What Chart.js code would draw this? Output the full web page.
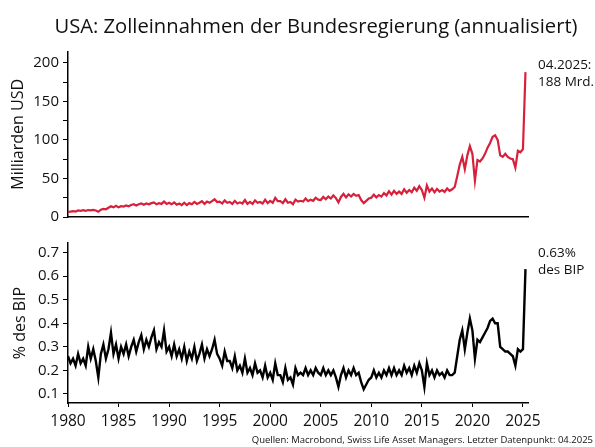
<!DOCTYPE html>
<html><head><meta charset="utf-8">
<script src="https://cdn.jsdelivr.net/npm/chart.js@4"></script>
<style>
html,body{margin:0;padding:0;background:#fff;}
#wrap{position:relative;width:595px;height:447px;overflow:hidden;font-family:"Open Sans",sans-serif;color:#111;}
#title{position:absolute;left:37px;width:558px;top:14px;text-align:center;font-size:20.2px;line-height:22px;white-space:nowrap;}
.note{position:absolute;left:538px;font-size:13.5px;line-height:17px;white-space:nowrap;}
#src{position:absolute;right:2px;top:434px;font-size:9.5px;line-height:11px;white-space:nowrap;}
#c1{position:absolute;left:0;top:0;}
#c2{position:absolute;left:0;top:230px;}
</style></head>
<body>
<div id="wrap">
<canvas id="c1" width="595" height="230"></canvas>
<canvas id="c2" width="595" height="205"></canvas>
<div id="title">USA: Zolleinnahmen der Bundesregierung (annualisiert)</div>
<div class="note" style="top:56px">04.2025:<br>188 Mrd.</div>
<div class="note" style="top:244px">0.63%<br>des BIP</div>
<div id="src">Quellen: Macrobond, Swiss Life Asset Managers. Letzter Datenpunkt: 04.2025</div>
</div>
<script>
// quarterly observations, 1980-01 ... 2025-04
const startYear = 1980;
const stepYears = 0.25;
const xTicks = [1980,1985,1990,1995,2000,2005,2010,2015,2020,2025];
const topTicks = [0,25,50,75,100,125,150,175,200];
const bottomTicks = [0.1,0.2,0.3,0.4,0.5,0.6,0.7];

const customsBn = [
 6.5,7.0,7.5,7.0, 8.5,8.0,8.8,8.0, 9.0,8.5,9.2,8.5, 6.8,9.5,10.5,10.0,
 12.0,14.0,12.5,14.5, 12.5,14.0,13.5,15.0, 14.0,15.5,16.5,15.0, 16.5,17.5,16.0,17.5,
 16.5,18.0,19.0,16.5, 18.0,17.0,20.0,17.0, 18.5,16.5,19.0,16.0, 17.5,15.5,18.5,15.5,
 18.0,16.5,19.5,17.0, 18.5,20.5,17.0,20.0, 18.5,20.5,23.0,19.5, 20.0,17.5,21.5,18.5,
 19.5,17.0,21.0,17.5, 19.0,17.5,22.0,17.0, 19.5,17.0,21.5,18.5, 19.5,17.5,22.5,18.0,
 21.0,18.5,25.0,20.5, 20.5,18.0,23.0,18.5, 19.5,16.5,22.5,20.0, 21.0,20.0,24.0,20.5,
 22.5,21.0,25.0,22.5, 22.0,26.0,23.0,26.5, 24.0,28.0,24.5,19.0, 26.0,30.0,25.5,29.5,
 26.5,30.0,27.5,28.5, 22.0,18.0,21.0,24.0, 25.0,29.0,25.5,28.5, 26.5,31.0,28.0,33.5,
 29.0,34.0,30.0,33.0, 30.0,36.0,31.5,35.0, 32.0,38.0,34.0,40.0, 35.0,25.0,41.0,33.0,
 37.0,32.0,36.5,33.0, 35.0,32.5,37.0,34.0, 36.0,39.0,53.0,68.0, 78.0,62.0,80.0,92.0,
 82.0,47.0,74.0,72.0, 76.0,82.0,90.0,96.0, 104.0,106.0,100.0,80.0, 78.0,82.0,78.0,76.0,
 75.0,64.0,86.0,84.0, 88.0,188.0
];
const customsPctGdp = [
 0.26,0.23,0.25,0.22, 0.27,0.23,0.25,0.22, 0.30,0.25,0.29,0.24, 0.17,0.27,0.31,0.25,
 0.29,0.36,0.27,0.31, 0.25,0.30,0.27,0.31, 0.26,0.30,0.33,0.28, 0.32,0.35,0.29,0.33,
 0.30,0.34,0.37,0.29, 0.32,0.30,0.37,0.28, 0.30,0.26,0.31,0.26, 0.29,0.25,0.30,0.24,
 0.28,0.25,0.30,0.24, 0.27,0.31,0.25,0.29, 0.26,0.29,0.33,0.27, 0.25,0.22,0.28,0.24,
 0.24,0.21,0.26,0.20, 0.22,0.19,0.25,0.19, 0.21,0.18,0.23,0.19, 0.20,0.17,0.22,0.17,
 0.19,0.16,0.23,0.18, 0.18,0.15,0.21,0.16, 0.17,0.14,0.21,0.18, 0.19,0.18,0.21,0.18,
 0.20,0.18,0.21,0.19, 0.18,0.21,0.18,0.20, 0.18,0.20,0.17,0.13, 0.18,0.21,0.17,0.20,
 0.18,0.21,0.18,0.19, 0.15,0.12,0.14,0.16, 0.17,0.20,0.17,0.19, 0.17,0.20,0.18,0.21,
 0.18,0.21,0.18,0.20, 0.18,0.22,0.19,0.21, 0.18,0.22,0.19,0.23, 0.20,0.13,0.23,0.18,
 0.20,0.17,0.20,0.18, 0.19,0.17,0.20,0.18, 0.18,0.19,0.26,0.33, 0.37,0.29,0.36,0.42,
 0.37,0.25,0.33,0.32, 0.34,0.36,0.38,0.41, 0.42,0.40,0.40,0.30, 0.29,0.28,0.28,0.27,
 0.26,0.22,0.29,0.28, 0.29,0.63
];

const toPoints = arr => arr.map((v,i) => ({x: startYear + i*stepYears, y: v}));
const FONT = '"Open Sans", sans-serif';
const TXT = '#111';

const setTicks = list => (s => { s.ticks = list.map(v => ({value: v})); });

new Chart(document.getElementById('c1'), {
  type: 'line',
  data: {datasets: [{data: toPoints(customsBn), borderColor: '#d7203b', borderWidth: 2.2, pointRadius: 0, tension: 0}]},
  options: {
    responsive: false, animation: false, devicePixelRatio: 1,
    layout: {padding: {left: 0, right: 67, top: 51.7, bottom: 0}},
    plugins: {legend: {display: false}, tooltip: {enabled: false}},
    scales: {
      x: {type: 'linear', min: 1980, max: 2025.5,
          ticks: {display: false}, grid: {display: false},
          border: {display: true, color: '#000', width: 1.5},
          afterFit: s => { s.height = 3.3; }},
      y: {min: 0, max: 214.5, afterBuildTicks: setTicks(topTicks),
          ticks: {font: {family: FONT, size: 15}, color: TXT, padding: 4,
                  callback: v => (v % 50 === 0 ? String(v) : '')},
          grid: {drawOnChartArea: false, tickLength: 5, tickColor: '#000', tickWidth: 1},
          border: {color: '#000', width: 1.5},
          title: {display: true, text: 'Milliarden USD', font: {family: FONT, size: 16}, color: TXT, padding: {top: 9, bottom: 0}},
          afterFit: s => { s.width = 68; }}
    }
  }
});

new Chart(document.getElementById('c2'), {
  type: 'line',
  data: {datasets: [{data: toPoints(customsPctGdp), borderColor: '#000', borderWidth: 2.4, pointRadius: 0, tension: 0}]},
  options: {
    responsive: false, animation: false, devicePixelRatio: 1,
    layout: {padding: {left: 0, right: 67, top: 2, bottom: 0}},
    plugins: {legend: {display: false}, tooltip: {enabled: false}},
    scales: {
      x: {type: 'linear', min: 1980, max: 2025.5, afterBuildTicks: setTicks(xTicks),
          ticks: {font: {family: FONT, size: 15.5}, color: TXT, padding: 5, maxRotation: 0, autoSkip: false,
                  callback: v => String(v)},
          grid: {drawOnChartArea: false, tickLength: 4, tickColor: '#000', tickWidth: 1},
          border: {display: true, color: '#000', width: 1.5},
          afterFit: s => { s.height = 32; }},
      y: {min: 0.0615, max: 0.741, afterBuildTicks: setTicks(bottomTicks),
          ticks: {font: {family: FONT, size: 15}, color: TXT, padding: 4,
                  callback: v => v.toFixed(1)},
          grid: {drawOnChartArea: false, tickLength: 5, tickColor: '#000', tickWidth: 1},
          border: {color: '#000', width: 1.5},
          title: {display: true, text: '% des BIP', font: {family: FONT, size: 16}, color: TXT, padding: {top: 11, bottom: 0}},
          afterFit: s => { s.width = 68; }}
    }
  }
});
</script>
</body></html>
